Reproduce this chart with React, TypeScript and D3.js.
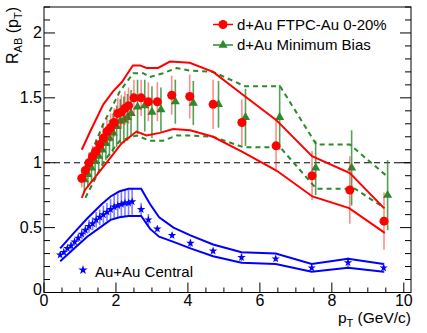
import React, { useEffect, useRef } from 'react';
import * as d3 from 'd3';

// d+Au FTPC-Au 0-20%
const ftpcPt = [1.05, 1.15, 1.25, 1.35, 1.45, 1.55, 1.65, 1.75, 1.85, 1.95, 2.05, 2.15, 2.25, 2.35, 2.5, 2.7, 2.9, 3.15, 3.55, 4.05, 4.7, 5.5, 6.45, 7.45, 8.5, 9.45];
const ftpcR = [0.88, 0.94, 1.0, 1.05, 1.09, 1.14, 1.19, 1.24, 1.27, 1.31, 1.38, 1.39, 1.42, 1.44, 1.5, 1.5, 1.47, 1.47, 1.52, 1.51, 1.45, 1.31, 1.13, 0.9, 0.79, 0.55];
const ftpcErr = [0.07, 0.07, 0.08, 0.08, 0.09, 0.09, 0.1, 0.1, 0.11, 0.11, 0.12, 0.13, 0.13, 0.14, 0.14, 0.14, 0.15, 0.15, 0.15, 0.17, 0.19, 0.18, 0.2, 0.19, 0.26, 0.22];
const ftpcSysUp = [[1.05, 1.1], [1.3, 1.25], [1.65, 1.45], [1.92, 1.55], [2.16, 1.62], [2.47, 1.75], [2.67, 1.75], [2.85, 1.73], [3.17, 1.73], [3.5, 1.78], [4.05, 1.77], [4.7, 1.7], [5.5, 1.53], [6.45, 1.33], [7.45, 1.05], [8.5, 0.92], [9.45, 0.65]];
const ftpcSysLow = [[1.05, 0.73], [1.14, 0.79], [1.74, 1.0], [2.16, 1.15], [2.57, 1.24], [2.85, 1.21], [3.22, 1.23], [3.59, 1.26], [4.06, 1.25], [4.7, 1.2], [5.54, 1.08], [6.46, 0.94], [7.46, 0.74], [8.48, 0.65], [9.47, 0.46]];

// d+Au minimum bias
const mbPt = [1.12, 1.22, 1.32, 1.42, 1.52, 1.62, 1.72, 1.82, 1.92, 2.02, 2.12, 2.22, 2.32, 2.42, 2.6, 2.8, 3.0, 3.25, 3.65, 4.15, 4.85, 5.6, 6.55, 7.55, 8.55, 9.55];
const mbR = [0.87, 0.91, 0.96, 1.01, 1.05, 1.1, 1.15, 1.19, 1.23, 1.28, 1.32, 1.33, 1.35, 1.38, 1.43, 1.44, 1.39, 1.41, 1.47, 1.46, 1.45, 1.35, 1.35, 0.96, 0.96, 0.75];
const mbErr = [0.1, 0.1, 0.11, 0.11, 0.12, 0.12, 0.13, 0.14, 0.15, 0.16, 0.17, 0.18, 0.18, 0.18, 0.21, 0.2, 0.2, 0.17, 0.17, 0.17, 0.18, 0.22, 0.25, 0.21, 0.29, 0.27];
const mbSysUp = [[1.12, 0.95], [1.65, 1.3], [2.11, 1.55], [2.48, 1.69], [2.76, 1.69], [2.94, 1.66], [3.31, 1.69], [3.69, 1.73], [4.06, 1.71], [4.7, 1.7], [5.58, 1.59], [6.56, 1.59], [7.57, 1.14], [8.5, 1.14], [9.56, 0.89]];
const mbSysLow = [[1.15, 0.73], [1.69, 1.02], [2.11, 1.17], [2.57, 1.21], [2.94, 1.17], [3.31, 1.17], [3.69, 1.21], [4.06, 1.21], [4.7, 1.2], [5.54, 1.12], [6.56, 1.12], [7.57, 0.8], [8.64, 0.8], [9.47, 0.65]];

// Au+Au central
const aaPt = [0.45, 0.55, 0.65, 0.75, 0.85, 0.95, 1.05, 1.15, 1.25, 1.35, 1.45, 1.55, 1.65, 1.75, 1.85, 1.95, 2.05, 2.15, 2.25, 2.35, 2.45, 2.7, 2.9, 3.15, 3.56, 4.07, 4.7, 5.49, 6.44, 7.44, 8.45, 9.44];
const aaR = [0.29, 0.31, 0.34, 0.36, 0.39, 0.42, 0.45, 0.48, 0.51, 0.53, 0.56, 0.58, 0.6, 0.62, 0.64, 0.66, 0.67, 0.68, 0.69, 0.69, 0.7, 0.64, 0.56, 0.49, 0.44, 0.38, 0.32, 0.27, 0.26, 0.19, 0.23, 0.19];
const aaErr = [0.02, 0.02, 0.02, 0.03, 0.03, 0.03, 0.04, 0.04, 0.05, 0.05, 0.06, 0.06, 0.07, 0.07, 0.08, 0.09, 0.09, 0.1, 0.1, 0.1, 0.1, 0.05, 0.045, 0.02, 0.02, 0.03, 0.02, 0.03, 0.02, 0.02, 0.04, 0.04];
const aaSysUp = [[0.45, 0.34], [0.8, 0.45], [1.2, 0.57], [1.6, 0.68], [1.85, 0.74], [2.1, 0.78], [2.35, 0.8], [2.7, 0.8], [2.95, 0.68], [3.2, 0.58], [3.6, 0.5], [4.07, 0.44], [4.7, 0.37], [5.49, 0.31], [6.44, 0.3], [7.44, 0.22], [8.45, 0.26], [9.44, 0.22]];
const aaSysLow = [[0.45, 0.24], [0.8, 0.33], [1.2, 0.43], [1.6, 0.51], [1.85, 0.56], [2.1, 0.58], [2.35, 0.59], [2.7, 0.59], [2.95, 0.49], [3.2, 0.43], [3.6, 0.39], [4.07, 0.34], [4.7, 0.28], [5.49, 0.23], [6.44, 0.22], [7.44, 0.16], [8.45, 0.19], [9.44, 0.16]];

const xTicks = [0, 2, 4, 6, 8, 10];
const yTicks = [0, 0.5, 1, 1.5, 2];

const RED = '#ff0000';
const GREEN = '#2b8a2b';
const BLUE = '#0000ff';
const FONT = '"Liberation Sans", Arial, sans-serif';

export default function App() {
  const ref = useRef<SVGSVGElement>(null);

  useEffect(() => {
    const svg = d3.select(ref.current);
    svg.selectAll('*').remove();
    const left = 44, right = 411, top = 7, bottom = 292.5;
    const x = d3.scaleLinear().domain([0, 10.2]).range([left, right]);
    const y = d3.scaleLinear().domain([0, 2.2]).range([bottom, top]);
    const line = d3.line<number[]>().x(d => x(d[0])).y(d => y(d[1]));

    // frame
    svg.append('rect').attr('x', left).attr('y', top).attr('width', right - left).attr('height', bottom - top)
      .attr('fill', 'none').attr('stroke', '#000').attr('stroke-width', 1);

    // ticks (inward, both y sides)
    const g = svg.append('g').attr('stroke', '#000').attr('stroke-width', 1);
    d3.range(0, 10.01, 0.5).forEach(v => {
      const major = Math.abs(v % 2) < 1e-6;
      g.append('line').attr('x1', x(v)).attr('x2', x(v)).attr('y1', bottom).attr('y2', bottom - (major ? 10 : 5));
    });
    d3.range(0, 2.201, 0.1).forEach(v => {
      const major = Math.abs((v * 10) % 5) < 1e-6;
      const len = major ? 11 : 6;
      g.append('line').attr('x1', left).attr('x2', left + len).attr('y1', y(v)).attr('y2', y(v));
      g.append('line').attr('x1', right).attr('x2', right - len).attr('y1', y(v)).attr('y2', y(v));
    });

    svg.selectAll('.xl').data(xTicks).enter().append('text')
      .attr('x', d => x(d)).attr('y', 305.5).attr('text-anchor', 'middle')
      .attr('font-size', 16).attr('font-family', FONT).text(d => d);
    svg.selectAll('.yl').data(yTicks).enter().append('text')
      .attr('x', 42).attr('y', d => y(d) + (d === 0 ? 2.5 : 5.5)).attr('text-anchor', 'end')
      .attr('font-size', 16).attr('font-family', FONT).text(d => d);

    // axis titles
    const xt = svg.append('text').attr('x', right).attr('y', 323).attr('text-anchor', 'end')
      .attr('font-size', 15.5).attr('font-family', FONT);
    xt.append('tspan').text('p');
    xt.append('tspan').attr('font-size', 11).attr('dy', 4).text('T');
    xt.append('tspan').attr('dy', -4).text(' (GeV/c)');
    const yt = svg.append('text').attr('transform', 'translate(18,7) rotate(-90)').attr('text-anchor', 'end')
      .attr('font-size', 16).attr('font-family', FONT);
    yt.append('tspan').text('R');
    yt.append('tspan').attr('font-size', 11).attr('dy', 4).text('AB');
    yt.append('tspan').attr('dy', -4).text(' (p');
    yt.append('tspan').attr('font-size', 11).attr('dy', 4).text('T');
    yt.append('tspan').attr('dy', -4).text(')');

    // unity line
    svg.append('line').attr('x1', left).attr('x2', right).attr('y1', y(1)).attr('y2', y(1))
      .attr('stroke', '#000').attr('stroke-width', 1.2).attr('stroke-dasharray', '6,4');

    const band = (pts: number[][], color: string, dash?: string) => {
      svg.append('path').attr('d', line(pts)).attr('fill', 'none').attr('stroke', color)
        .attr('stroke-width', 2).attr('stroke-dasharray', dash || null);
    };
    const errors = (px: number[], py: number[], pe: number[], color: string, op: number) => {
      svg.append('g').selectAll('line').data(px).enter().append('line')
        .attr('x1', d => x(d)).attr('x2', d => x(d))
        .attr('y1', (d, i) => y(py[i] - pe[i])).attr('y2', (d, i) => y(py[i] + pe[i]))
        .attr('stroke', color).attr('stroke-opacity', op).attr('stroke-width', 1.6);
    };

    // Au+Au central
    band(aaSysUp, BLUE);
    band(aaSysLow, BLUE);
    errors(aaPt, aaR, aaErr, BLUE, 0.5);
    const star = d3.symbol().type(d3.symbolStar).size(22)();
    svg.append('g').selectAll('path').data(aaPt).enter().append('path')
      .attr('d', star).attr('fill', BLUE)
      .attr('transform', (d, i) => `translate(${x(d)},${y(aaR[i])})`);

    // minimum bias
    band(mbSysUp, GREEN, '5,4');
    band(mbSysLow, GREEN, '5,4');
    errors(mbPt, mbR, mbErr, GREEN, 0.8);
    const tri = d3.symbol().type(d3.symbolTriangle).size(36)();
    svg.append('g').selectAll('path').data(mbPt).enter().append('path')
      .attr('d', tri).attr('fill', GREEN)
      .attr('transform', (d, i) => `translate(${x(d)},${y(mbR[i])})`);

    // FTPC-Au 0-20%
    band(ftpcSysUp, RED);
    band(ftpcSysLow, RED);
    errors(ftpcPt, ftpcR, ftpcErr, RED, 0.45);
    svg.append('g').selectAll('circle').data(ftpcPt).enter().append('circle')
      .attr('cx', d => x(d)).attr('cy', (d, i) => y(ftpcR[i])).attr('r', 4.5).attr('fill', RED);

    // legend
    const lg = svg.append('g');
    lg.append('line').attr('x1', 213).attr('x2', 233).attr('y1', 24.5).attr('y2', 24.5).attr('stroke', RED).attr('stroke-width', 1.5);
    lg.append('circle').attr('cx', 223).attr('cy', 24.5).attr('r', 4.5).attr('fill', RED);
    lg.append('text').attr('x', 237).attr('y', 29.5).attr('font-size', 15).attr('font-family', FONT).text('d+Au FTPC-Au 0-20%');
    lg.append('line').attr('x1', 213).attr('x2', 233).attr('y1', 45).attr('y2', 45).attr('stroke', GREEN).attr('stroke-width', 1.5);
    lg.append('path').attr('d', tri).attr('fill', GREEN).attr('transform', 'translate(223,45)');
    lg.append('text').attr('x', 237).attr('y', 49.5).attr('font-size', 15).attr('font-family', FONT).text('d+Au Minimum Bias');
    lg.append('path').attr('d', d3.symbol().type(d3.symbolStar).size(28)()).attr('fill', BLUE).attr('transform', 'translate(83,270)');
    lg.append('text').attr('x', 95).attr('y', 276.5).attr('font-size', 15).attr('font-family', FONT).text('Au+Au Central');
  }, []);

  return (
    <svg ref={ref} width={427} height={333} style={{ position: 'absolute', left: 0, top: 0, background: '#fff' }} />
  );
}
